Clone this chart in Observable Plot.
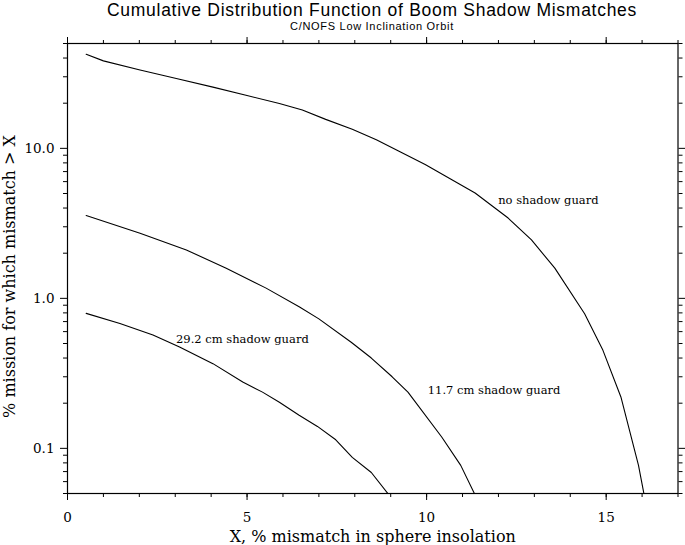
<!DOCTYPE html>
<html><head><meta charset="utf-8">
<script src="https://cdn.jsdelivr.net/npm/d3@7"></script>
<script src="https://cdn.jsdelivr.net/npm/@observablehq/plot@0.6"></script>
<style>
body{margin:0;background:#fff;overflow:hidden}
#hdr{position:relative;height:30px;width:685px;font-family:"Liberation Sans",Arial,sans-serif;color:#000}
.t{position:absolute;left:67px;width:610px;text-align:center;white-space:nowrap}
</style></head><body>
<div id="hdr">
<div class="t" style="top:1.1px;font-size:17.5px;line-height:18px;letter-spacing:0.72px">Cumulative Distribution Function of Boom Shadow Mismatches</div>
<div class="t" style="top:19.7px;font-size:11px;line-height:12px;letter-spacing:0.7px">C/NOFS Low Inclination Orbit</div>
</div>
<div id="chart"></div>
<script>
const seriesNames = ["no shadow guard", "11.7 cm shadow guard", "29.2 cm shadow guard"];
const noGuardX = [0.52,1.0,2.02,3.03,4.05,4.97,5.9,6.54,7.19,7.93,8.6,9.96,11.35,12.27,12.92,13.57,14.4,14.91,15.41,15.9,16.05];
const noGuardY = [42.4,38.3,33.3,29.2,25.6,22.6,19.9,18.0,15.6,13.4,11.4,7.8,5.04,3.43,2.45,1.59,0.79,0.45,0.22,0.077,0.05];
const guard117X = [0.52,2.02,3.31,4.42,5.53,6.45,7.0,7.9,8.46,9.04,9.48,10.42,10.95,11.33];
const guard117Y = [3.57,2.72,2.10,1.59,1.17,0.88,0.73,0.51,0.40,0.30,0.237,0.119,0.077,0.05];
const guard292X = [0.52,1.46,2.38,3.12,4.05,4.88,5.43,5.9,6.45,6.96,7.47,7.93,8.46,8.92];
const guard292Y = [0.794,0.68,0.569,0.474,0.367,0.277,0.237,0.203,0.166,0.14,0.114,0.087,0.069,0.05];

const labelX = [13.39, 11.88, 4.87];
const labelY = [4.49, 0.242, 0.53];

const majorX = [0,5,10,15];
const minorX = [0,1,2,3,4,5,6,7,8,9,10,11,12,13,14,15,16,17];
const majorY = [0.1,1,10];
const majorYText = ["0.1","1.0","10.0"];
const minorY = [0.05,0.06,0.07,0.08,0.09,0.2,0.3,0.4,0.5,0.6,0.7,0.8,0.9,2,3,4,5,6,7,8,9,20,30,40,50];

const xTitle = "X, % mismatch in sphere insolation";
const yTitle = "% mission for which mismatch > X";

const rows = [];
[[noGuardX,noGuardY],[guard117X,guard117Y],[guard292X,guard292Y]].forEach(([xs,ys],k)=>{
  xs.forEach((x,i)=>rows.push({series:seriesNames[k], x, y:ys[i]}));
});
const labels = seriesNames.map((s,i)=>({text:s, x:labelX[i], y:labelY[i]}));
const yTicks = majorY.map((v,i)=>({v, t:majorYText[i]}));

const F = "DejaVu Serif";
const tf = ()=>"";
const chart = Plot.plot({
  width:685, height:515,
  marginTop:13, marginBottom:52, marginLeft:67, marginRight:7.5,
  x:{domain:[0,17]},
  y:{type:"log", domain:[0.05,50]},
  style:{fontFamily:F, fontSize:"13px", color:"#000", background:"#fff"},
  marks:[
    Plot.axisX({anchor:"bottom", ticks:minorX, tickSize:4, tickFormat:tf, label:null, stroke:"#000"}),
    Plot.axisX({anchor:"bottom", ticks:majorX, tickSize:7, tickFormat:tf, label:null, stroke:"#000"}),
    Plot.axisX({anchor:"top", ticks:minorX, tickSize:4, tickFormat:tf, label:null, stroke:"#000"}),
    Plot.axisX({anchor:"top", ticks:majorX, tickSize:7, tickFormat:tf, label:null, stroke:"#000"}),
    Plot.axisY({anchor:"left", ticks:minorY, tickSize:4, tickFormat:tf, label:null, stroke:"#000"}),
    Plot.axisY({anchor:"left", ticks:majorY, tickSize:7, tickFormat:tf, label:null, stroke:"#000"}),
    Plot.axisY({anchor:"right", ticks:minorY, tickSize:4, tickFormat:tf, label:null, stroke:"#000"}),
    Plot.axisY({anchor:"right", ticks:majorY, tickSize:7, tickFormat:tf, label:null, stroke:"#000"}),
    Plot.text(majorX, {x:d=>d, text:d=>String(d), frameAnchor:"bottom", dy:24.3, lineAnchor:"middle", textAnchor:"middle", fontFamily:F, fontSize:13.5, fill:"#000"}),
    Plot.text(yTicks, {y:"v", text:"t", frameAnchor:"left", dx:-13, textAnchor:"end", lineAnchor:"middle", fontFamily:F, fontSize:13.5, fill:"#000"}),
    Plot.frame({stroke:"#000", strokeWidth:1.2}),
    Plot.line(rows, {x:"x", y:"y", z:"series", stroke:"#000", strokeWidth:1.1, clip:true}),
    Plot.text(labels, {x:"x", y:"y", text:"text", fontFamily:F, fontSize:11.5, fill:"#000"}),
    Plot.text([xTitle], {text:d=>d, frameAnchor:"bottom", dy:43.5, lineAnchor:"middle", textAnchor:"middle", fontFamily:F, fontSize:16, fill:"#000"}),
    Plot.text([yTitle], {text:d=>d, frameAnchor:"left", dx:-58, dy:8, rotate:-90, lineAnchor:"middle", textAnchor:"middle", fontFamily:F, fontSize:16, fill:"#000"})
  ]
});
document.getElementById("chart").appendChild(chart);
</script>
</body></html>
